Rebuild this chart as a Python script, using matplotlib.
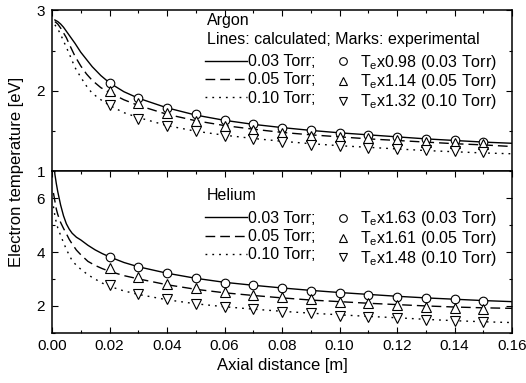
import matplotlib
matplotlib.use("Agg")
import matplotlib.pyplot as plt
from matplotlib.ticker import MultipleLocator, FormatStrFormatter
from matplotlib.lines import Line2D

plt.rcParams['font.family'] = ['Liberation Sans', 'DejaVu Sans']
plt.rcParams['mathtext.fontset'] = 'custom'
plt.rcParams['mathtext.rm'] = 'Liberation Sans'
plt.rcParams['mathtext.it'] = 'Liberation Sans'

# ---------------- data ----------------
x_ar = [0.001, 0.002, 0.003, 0.004, 0.005, 0.006, 0.008, 0.010, 0.012, 0.014, 0.017, 0.020,
        0.025, 0.03, 0.04, 0.05, 0.06, 0.07, 0.08, 0.09, 0.10, 0.11, 0.12, 0.13, 0.14, 0.15, 0.16]
ar_003 = [2.88, 2.86, 2.83, 2.79, 2.74, 2.69, 2.59, 2.48, 2.39, 2.30, 2.19, 2.10,
          1.99, 1.91, 1.79, 1.70, 1.635, 1.585, 1.545, 1.51, 1.48, 1.455, 1.43, 1.405, 1.385, 1.365, 1.35]
ar_005 = [2.86, 2.83, 2.78, 2.72, 2.66, 2.58, 2.43, 2.31, 2.21, 2.13, 2.04, 1.98,
          1.89, 1.82, 1.71, 1.63, 1.57, 1.525, 1.485, 1.455, 1.43, 1.405, 1.385, 1.365, 1.345, 1.33, 1.31]
ar_010 = [2.82, 2.77, 2.70, 2.62, 2.54, 2.46, 2.29, 2.17, 2.06, 1.97, 1.89, 1.82,
          1.73, 1.67, 1.57, 1.50, 1.45, 1.41, 1.375, 1.345, 1.32, 1.30, 1.28, 1.26, 1.245, 1.23, 1.22]

x_exp = [0.02, 0.03, 0.04, 0.05, 0.06, 0.07, 0.08, 0.09, 0.10, 0.11, 0.12, 0.13, 0.14, 0.15]
ar_exp_003 = [2.10, 1.917, 1.79, 1.71, 1.64, 1.587, 1.54, 1.51, 1.476, 1.455, 1.43, 1.405, 1.385, 1.365]
ar_exp_005 = [2.00, 1.85, 1.72, 1.63, 1.56, 1.52, 1.475, 1.445, 1.43, 1.41, 1.39, 1.37, 1.35, 1.335]
ar_exp_010 = [1.83, 1.65, 1.56, 1.50, 1.44, 1.40, 1.36, 1.33, 1.32, 1.295, 1.28, 1.27, 1.26, 1.245]

x_he = [0.0005, 0.001, 0.0015, 0.002, 0.003, 0.004, 0.005, 0.006, 0.007, 0.0085, 0.010, 0.0125,
        0.015, 0.0175, 0.02, 0.025, 0.03, 0.04, 0.05, 0.06, 0.07, 0.08, 0.09, 0.10, 0.11, 0.12,
        0.13, 0.14, 0.15, 0.16]
he_003 = [7.6, 6.9, 6.55, 6.25, 5.75, 5.35, 5.05, 4.85, 4.7, 4.55, 4.45, 4.25,
          4.08, 3.94, 3.82, 3.61, 3.45, 3.21, 3.02, 2.87, 2.76, 2.66, 2.57, 2.49, 2.42, 2.35,
          2.29, 2.24, 2.19, 2.15]
he_005 = [6.2, 5.9, 5.6, 5.4, 5.1, 4.88, 4.68, 4.47, 4.3, 4.07, 3.9, 3.65,
          3.5, 3.38, 3.28, 3.12, 3.0, 2.78, 2.61, 2.48, 2.38, 2.29, 2.21, 2.15, 2.09, 2.04,
          1.99, 1.95, 1.92, 1.90]
he_010 = [5.7, 5.35, 5.1, 4.9, 4.62, 4.35, 4.1, 3.88, 3.68, 3.5, 3.36, 3.15,
          2.99, 2.84, 2.72, 2.55, 2.42, 2.22, 2.07, 1.96, 1.87, 1.79, 1.72, 1.66, 1.60, 1.55,
          1.49, 1.44, 1.40, 1.37]

he_exp_003 = [3.82, 3.45, 3.21, 3.02, 2.86, 2.77, 2.66, 2.56, 2.48, 2.40, 2.34, 2.27, 2.24, 2.19]
he_exp_005 = [3.39, 3.06, 2.80, 2.65, 2.50, 2.40, 2.31, 2.24, 2.15, 2.09, 2.03, 1.96, 1.92, 1.88]
he_exp_010 = [2.77, 2.44, 2.24, 2.06, 1.96, 1.87, 1.76, 1.72, 1.63, 1.57, 1.53, 1.47, 1.42, 1.38]

pressure_labels = ['0.03 Torr;', '0.05 Torr;', '0.10 Torr;']
ar_exp_labels = ['T$_\\mathregular{e}$x0.98 (0.03 Torr)', 'T$_\\mathregular{e}$x1.14 (0.05 Torr)',
                 'T$_\\mathregular{e}$x1.32 (0.10 Torr)']
he_exp_labels = ['T$_\\mathregular{e}$x1.63 (0.03 Torr)', 'T$_\\mathregular{e}$x1.61 (0.05 Torr)',
                 'T$_\\mathregular{e}$x1.48 (0.10 Torr)']

# ---------------- styles ----------------
LW = 1.0
line_styles = ['-', (0, (7.0, 3.6)), (0, (1.3, 3.6))]
markers = ['o', '^', 'v']
msizes = [6.2, 7.2, 7.2]
FS = 11.5
TFS = 11

W, H = 526, 383
fig = plt.figure(figsize=(W / 100, H / 100), dpi=100)
L, R = 52 / W, 512 / W
ax1 = fig.add_axes([L, (H - 171.5) / H, R - L, 161.2 / H])
ax2 = fig.add_axes([L, (H - 332.5) / H, R - L, 161.0 / H])


def draw(ax, x_line, lines, exp, ylim, ymaj, ymin):
    for y, ls in zip(lines, line_styles):
        ax.plot(x_line, y, color='black', lw=LW, linestyle=ls, zorder=2)
    for y, m, s in zip(exp, markers, msizes):
        ax.plot(x_exp, y, linestyle='none', marker=m, ms=s, mfc='white', mec='black',
                mew=0.8, zorder=3)
    ax.set_xlim(0, 0.16)
    ax.set_ylim(*ylim)
    ax.xaxis.set_major_locator(MultipleLocator(0.02))
    ax.xaxis.set_minor_locator(MultipleLocator(0.01))
    ax.yaxis.set_major_locator(MultipleLocator(ymaj))
    ax.yaxis.set_minor_locator(MultipleLocator(ymin))
    ax.tick_params(which='both', direction='in', top=True, right=True, labelsize=TFS,
                   width=0.8, pad=5)
    ax.tick_params(which='major', length=4.5)
    ax.tick_params(which='minor', length=2.3)
    for s in ax.spines.values():
        s.set_linewidth(1.1)


draw(ax1, x_ar, [ar_003, ar_005, ar_010], [ar_exp_003, ar_exp_005, ar_exp_010], (1, 3), 1, 0.5)
draw(ax2, x_he, [he_003, he_005, he_010], [he_exp_003, he_exp_005, he_exp_010], (1, 7), 2, 1)
ax1.tick_params(which='both', bottom=False, labelbottom=False)
ax2.xaxis.set_major_formatter(FormatStrFormatter('%.2f'))
ax2.set_xlabel('Axial distance [m]', fontsize=12, labelpad=3)
fig.text(0.032, (H - 171.5) / H, 'Electron temperature [eV]', rotation=90,
         ha='center', va='center', fontsize=12)


def legends(ax, title_lines, title_y, col_y, exp_labels):
    for t, ty in zip(title_lines, title_y):
        ax.text(0.336, ty, t, transform=ax.transAxes, fontsize=FS, ha='left', va='center')
    hl = [Line2D([], [], color='black', lw=LW, linestyle=ls) for ls in line_styles]
    hm = [Line2D([], [], linestyle='none', marker=m, ms=5.5, mfc='white', mec='black', mew=0.8)
          for m in markers]
    lg1 = ax.legend(hl, pressure_labels, loc='upper left', bbox_to_anchor=(0.3326, col_y),
                    frameon=False, fontsize=FS, handlelength=2.6, handletextpad=0.1,
                    borderpad=0, borderaxespad=0, labelspacing=0.2)
    ax.add_artist(lg1)
    ax.legend(hm, exp_labels, loc='upper left', bbox_to_anchor=(0.615, col_y + 0.01),
              frameon=False, fontsize=FS, handlelength=1.0, handletextpad=0.55,
              borderpad=0, borderaxespad=0, labelspacing=0.05)


legends(ax1, ['Argon', 'Lines: calculated; Marks: experimental'], [0.935, 0.816], 0.728,
        ar_exp_labels)
legends(ax2, ['Helium'], [0.854], 0.755, he_exp_labels)

fig.savefig('out.png', dpi=100)
